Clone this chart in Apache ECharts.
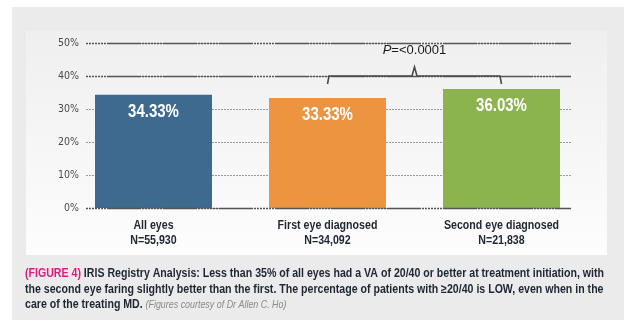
<!DOCTYPE html>
<html>
<head>
<meta charset="utf-8">
<script src="https://cdn.jsdelivr.net/npm/echarts@6/dist/echarts.min.js"></script>
<style>
  html, body { margin: 0; padding: 0; background: #ffffff; }
  #chart { width: 624px; height: 326px; }
</style>
</head>
<body>
<div id="chart"></div>
<script>
// IRIS Registry: share of eyes with VA 20/40 or better at treatment initiation
const categories = ['All eyes', 'First eye diagnosed', 'Second eye diagnosed'];
const sampleSizes = ['N=55,930', 'N=34,092', 'N=21,838'];
const percentages = [34.33, 33.33, 36.03];
const barColors = ['#3d6a8e', '#ec9440', '#8bb44e'];
const yTicks = [0, 10, 20, 30, 40, 50];
const solidGuides = [0, 40, 50];
// significance bracket between the two diagnosis groups
const braceFrom = 1;
const braceTo = 2;
const braceLevel = 40;
const pLabel = 'P=<0.0001';
const captionLines = [
  ['(FIGURE 4)', ' IRIS Registry Analysis: Less than 35% of all eyes had a VA of 20/40 or better at treatment initiation, with'],
  ['', 'the second eye faring slightly better than the first. The percentage of patients with \u226520/40 is LOW, even when in the'],
  ['', 'care of the treating MD.']
];
const captionSource = '(Figures courtesy of Dr Allen C. Ho)';

const sans = "'Liberation Sans', Arial, sans-serif";
const mixedDash = [2, 1, 2, 1, 2, 1, 2, 1, 2, 1, 2, 1, 2, 1, 34, 1];

// condensed look: horizontally squeeze a regular sans
const ctx = document.createElement('canvas').getContext('2d');
function textWidth(str, font) { ctx.font = font; return ctx.measureText(str).width; }
const captionFont = "bold 12.5px 'Liberation Sans'";
const captionScale = 579 / textWidth(captionLines[0].join(''), captionFont);

const chart = echarts.init(document.getElementById('chart'), null, { renderer: 'canvas' });

const captionText = captionLines.map((l, i) => {
  let s = (l[0] ? '{fig|' + l[0] + '}' : '') + '{b|' + l[1] + '}';
  if (i === captionLines.length - 1) s += ' {src|' + captionSource + '}';
  return s;
}).join('\n');

const option = {
  animation: false,
  backgroundColor: 'transparent',
  graphic: [
    { type: 'rect', z: -20, silent: true,
      shape: { x: 12, y: 7, width: 612, height: 313 },
      style: { fill: '#ebebeb' } },
    { type: 'rect', z: -19, silent: true,
      shape: { x: 26, y: 31, width: 581, height: 224 },
      style: { fill: new echarts.graphic.LinearGradient(0, 0, 0, 1, [
        { offset: 0, color: '#efefef' }, { offset: 1, color: '#fdfdfd' }]) } },
    { type: 'text', x: 25, y: 266, scaleX: captionScale, z: 10, silent: true,
      style: {
        x: 0, y: 0,
        text: captionText,
        fill: '#1f2533',
        rich: {
          fig: { fontFamily: sans, fontWeight: 'bold', fontSize: 12.5, fill: '#e0197d', lineHeight: 15.5 },
          b: { fontFamily: sans, fontWeight: 'bold', fontSize: 12.5, fill: '#1f2533', lineHeight: 15.5 },
          src: { fontFamily: sans, fontStyle: 'italic', fontSize: 10.5, fill: '#8a8a8a', lineHeight: 15.5 }
        }
      } }
  ],
  grid: [
    { left: 86, right: 53, top: 43, bottom: 118 },
    { left: 66.5, right: 35.5, top: 43, bottom: 118 }
  ],
  xAxis: [
    { gridIndex: 0, type: 'category', data: categories, show: false },
    { gridIndex: 1, type: 'category', data: categories, show: false }
  ],
  yAxis: [
    { gridIndex: 0, type: 'value', min: yTicks[0], max: yTicks[yTicks.length - 1], interval: 10,
      axisLine: { show: false }, axisTick: { show: false },
      axisLabel: { formatter: '{value}%', margin: 7, fontFamily: "'DejaVu Sans Condensed', sans-serif",
                   fontSize: 10.5, color: '#4a4a4a' },
      splitLine: { show: true, lineStyle: { color: '#9a9a9a', width: 1, type: [2, 1] } } },
    { gridIndex: 1, type: 'value', min: yTicks[0], max: yTicks[yTicks.length - 1], show: false,
      splitLine: { show: false } }
  ],
  series: [
    { // heavier guide lines at 0%, 40% and 50%
      type: 'line', xAxisIndex: 0, yAxisIndex: 0, data: [], silent: true,
      markLine: {
        silent: true, symbol: 'none', label: { show: false },
        lineStyle: { color: '#555555', width: 1.3, type: mixedDash },
        data: solidGuides.map(v => ({ yAxis: v }))
      }
    },
    {
      type: 'bar', xAxisIndex: 1, yAxisIndex: 1, barWidth: 117, z: 3,
      data: percentages.map((v, i) => ({ value: v, itemStyle: { color: barColors[i] } }))
    },
    { // value labels inside the bar tops, plus category names under the axis
      type: 'custom', xAxisIndex: 1, yAxisIndex: 1, z: 6, silent: true,
      data: percentages.map((v, i) => [i, v]),
      renderItem: (params, api) => {
        const i = api.value(0);
        const top = api.coord([i, api.value(1)]);
        const base = api.coord([i, 0]);
        return {
          type: 'group',
          children: [
            { type: 'text', x: top[0], y: top[1] + 17, scaleX: 0.79,
              style: { x: 0, y: 0, align: 'center', verticalAlign: 'middle',
                       text: api.value(1).toFixed(2) + '%',
                       font: "bold 19px 'Liberation Sans'", fill: '#ffffff' } },
            { type: 'text', x: base[0], y: base[1] + 18, scaleX: 0.85,
              style: { x: 0, y: 0, align: 'center', verticalAlign: 'middle',
                       text: categories[i], font: "bold 12.5px 'Liberation Sans'", fill: '#1f2533' } },
            { type: 'text', x: base[0], y: base[1] + 33, scaleX: 0.85,
              style: { x: 0, y: 0, align: 'center', verticalAlign: 'middle',
                       text: sampleSizes[i], font: "bold 12.5px 'Liberation Sans'", fill: '#1f2533' } }
          ]
        };
      }
    },
    {
      type: 'custom', xAxisIndex: 1, yAxisIndex: 1, z: 5, silent: true,
      data: [[braceFrom, braceTo, braceLevel]],
      renderItem: (params, api) => {
        const a = api.coord([api.value(0), api.value(2)]);
        const b = api.coord([api.value(1), api.value(2)]);
        const y = a[1];
        const xm = (a[0] + b[0]) / 2;
        return {
          type: 'group',
          children: [
            { type: 'polyline',
              shape: { points: [[a[0], y + 8], [a[0] + 1.5, y], [xm - 2.5, y], [xm, y - 9],
                                [xm + 2.5, y], [b[0] - 1.5, y], [b[0], y + 8]] },
              style: { stroke: '#4a4a4a', lineWidth: 1.6, fill: null } },
            { type: 'text',
              style: {
                x: xm, y: y - 26, align: 'center', verticalAlign: 'middle',
                text: '{i|' + pLabel.charAt(0) + '}{n|' + pLabel.slice(1) + '}',
                rich: {
                  i: { fontFamily: sans, fontStyle: 'italic', fontSize: 13, fill: '#1a1a1a' },
                  n: { fontFamily: sans, fontSize: 13, fill: '#1a1a1a' }
                }
              } }
          ]
        };
      }
    }
  ]
};

chart.setOption(option);
</script>
</body>
</html>
